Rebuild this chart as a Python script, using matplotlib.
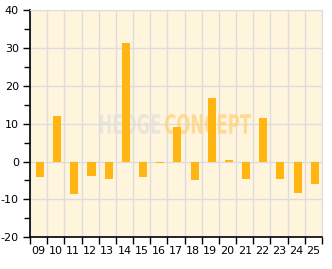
import matplotlib
matplotlib.use("Agg")
import matplotlib.pyplot as plt
import numpy as np
from matplotlib.textpath import TextPath
from matplotlib.patches import PathPatch
from matplotlib.font_manager import FontProperties
from matplotlib.transforms import Affine2D, IdentityTransform

plt.rcParams["axes.unicode_minus"] = False

categories = ["09", "10", "11", "12", "13", "14", "15", "16", "17", "18", "19", "20", "21", "22", "23", "24", "25"]
values = [-4.2, 12.0, -8.5, -3.7, -4.5, 31.3, -4.0, -0.5, 9.1, -5.0, 16.8, 0.3, -4.5, 11.5, -4.5, -8.2, -5.8]

W, H = 332, 269
fig = plt.figure(figsize=(W/100, H/100), dpi=100)
ax = fig.add_axes([30/W, 1-237.3/H, 292/W, 227.3/H])
ax.set_facecolor("#FFF5DD")

x = np.arange(len(categories))
ax.bar(x + 0.08, values, width=0.47, color="#FFB612", zorder=3)

ax.set_xlim(-0.5, len(categories) - 0.5)
ax.set_ylim(-20, 40)

ax.set_yticks([-20, -10, 0, 10, 20, 30, 40])
ax.set_yticks(np.arange(-15, 40, 10), minor=True)
ax.set_xticks(np.arange(len(categories) + 1) - 0.5)
ax.set_xticklabels([])
ax.set_xticks(x, minor=True)
ax.set_xticklabels(categories, minor=True)
ax.tick_params(axis="x", which="minor", length=0, pad=6, labelsize=8)
ax.tick_params(axis="x", which="major", length=5, width=1, color="black")
ax.tick_params(axis="y", which="major", length=5, width=1, labelsize=8, pad=3)
ax.tick_params(axis="y", which="minor", length=4, width=1)

ax.grid(True, which="major", color="#DDDDDD", linewidth=1, zorder=0)
for s in ["top", "right"]:
    ax.spines[s].set_color("#DDDDDD")
for s in ["left", "bottom"]:
    ax.spines[s].set_color("black")
    ax.spines[s].set_linewidth(1.2)

# watermark
fp = FontProperties(family="DejaVu Sans", weight="bold")
def watermark(txt, x0, x1, ytop, ybot, color):
    tp = TextPath((0, 0), txt, size=10, prop=fp)
    bb = tp.get_extents()
    sx = (x1 - x0) / bb.width
    sy = (ybot - ytop) / bb.height
    tr = Affine2D().translate(-bb.x0, -bb.y0).scale(sx, sy).translate(x0, H - ybot)
    patch = PathPatch(tr.transform_path(tp), facecolor=color, edgecolor="none",
                      alpha=0.75, transform=IdentityTransform(), zorder=2)
    ax.add_artist(patch)

watermark("HEDGE", 100, 160, 114, 134, "#E3E0D8")
watermark("CONCEPT", 165, 251, 114, 134, "#FFD27A")

fig.savefig("out.png", dpi=100)
